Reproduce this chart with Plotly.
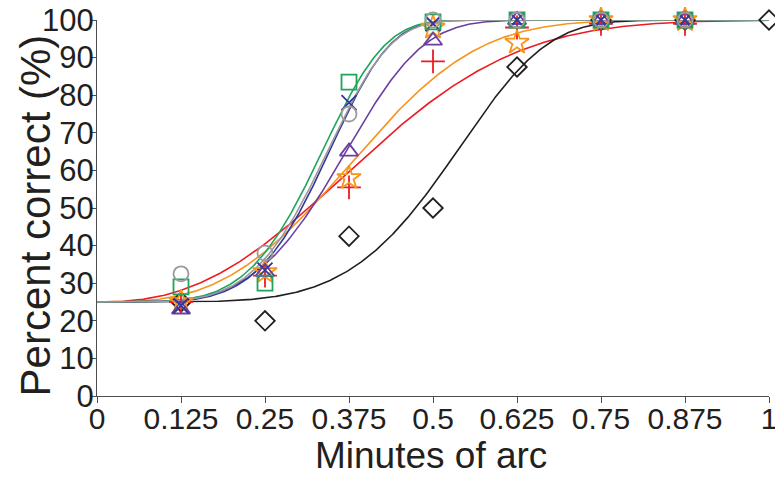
import numpy as np
import plotly.graph_objects as go

# ---- data ----
x_levels = [0.125, 0.25, 0.375, 0.5, 0.625, 0.75, 0.875]
x_levels_black = [0.125, 0.25, 0.375, 0.5, 0.625, 0.75, 0.875, 1.0]

gray_circle = [32.5, 38, 75, 100, 100, 100, 100]
green_square = [29, 30, 83.5, 99.5, 100, 100, 100]
blue_x = [24, 33.5, 78, 99, 100, 100, 100]
purple_triangle = [23, 33, 65, 94.5, 100, 100, 100]
orange_star = [25, 33, 58, 98, 94, 100, 100]
red_plus = [25, 32, 55.5, 89, 98, 99, 99]
black_diamond = [25, 20, 42.5, 50, 87.5, 100, 100, 100]

# fitted psychometric (Weibull) parameters
series_names = ["red", "orange", "black", "purple", "blue", "green", "gray"]
fit_threshold = [0.455, 0.43, 0.564, 0.395, 0.365, 0.355, 0.363]
fit_slope = [2.45, 3.0, 5.2, 4.25, 5.0, 4.7, 4.8]
chance_level = 25
ceiling = 100

tick_vals_x = [0, 0.125, 0.25, 0.375, 0.5, 0.625, 0.75, 0.875, 1]
tick_text_x = ["0", "0.125", "0.25", "0.375", "0.5", "0.625", "0.75", "0.875", "1"]
tick_vals_y = list(range(0, 101, 10))

x_title = "Minutes of arc"
y_title = "Percent correct (%)"

colors = {
    "gray": "#9b9b9b",
    "green": "#1fa55b",
    "blue": "#34379a",
    "purple": "#6a3fa0",
    "orange": "#f7941d",
    "red": "#ed1c24",
    "black": "#231f20",
}

fig = go.Figure()

xs = np.linspace(0, 1, 500)
for name, a, b in zip(series_names, fit_threshold, fit_slope):
    ys = chance_level + (ceiling - chance_level) * (1 - np.exp(-(xs / a) ** b))
    fig.add_trace(go.Scatter(x=xs, y=ys, mode="lines",
                             line=dict(color=colors[name], width=1.6),
                             hoverinfo="skip", showlegend=False))

marker_series = [
    ("black", x_levels_black, black_diamond, "diamond-open", 15),
    ("red", x_levels, red_plus, "cross-thin-open", 17),
    ("orange", x_levels, orange_star, "star-open", 18),
    ("purple", x_levels, purple_triangle, "triangle-up-open", 16),
    ("blue", x_levels, blue_x, "x-thin-open", 15),
    ("green", x_levels, green_square, "square-open", 15),
    ("gray", x_levels, gray_circle, "circle-open", 15),
]
for name, xv, yv, sym, size in marker_series:
    fig.add_trace(go.Scatter(x=xv, y=yv, mode="markers", cliponaxis=False,
                             marker=dict(symbol=sym, size=size,
                                         color=colors[name],
                                         line=dict(color=colors[name], width=1.8)),
                             showlegend=False))

font_family = "Liberation Sans, Arial, Helvetica, sans-serif"
text_color = "#231f20"
fig.update_layout(
    width=775, height=479,
    margin=dict(l=97, r=6, t=20, b=83, autoexpand=False),
    paper_bgcolor="white", plot_bgcolor="white",
    font=dict(family=font_family, color=text_color),
    showlegend=False,
    hovermode=False,
    annotations=[
        dict(text=x_title, xref="paper", yref="paper", x=0.497, y=-0.158,
             xanchor="center", yanchor="middle", showarrow=False,
             font=dict(size=37, color=text_color)),
        dict(text=y_title, xref="paper", yref="paper", x=-0.0915, y=0.479,
             xanchor="center", yanchor="middle", showarrow=False, textangle=-90,
             font=dict(size=42, color=text_color)),
    ],
)
fig.update_xaxes(
    range=[0, 1], tickvals=tick_vals_x, ticktext=tick_text_x, automargin=False,
    showgrid=False, zeroline=False, showline=True, linecolor="#4d4d4d", linewidth=1.2,
    ticks="outside", ticklen=6, tickcolor="#4d4d4d", tickwidth=1.2,
    tickfont=dict(size=30, color=text_color), ticklabelstandoff=-10,
    ticklabeloverflow="allow",
)
fig.update_yaxes(
    range=[0, 100], tickvals=tick_vals_y, automargin=False,
    showgrid=False, zeroline=False, showline=True, linecolor="#4d4d4d", linewidth=1.2,
    ticks="outside", ticklen=6, tickcolor="#4d4d4d", tickwidth=1.2,
    tickfont=dict(size=31, color=text_color), ticklabelstandoff=-10,
    ticklabeloverflow="allow",
)

fig.write_html("out.html", config={"displayModeBar": False},
               post_script="document.body.style.margin='0';")
